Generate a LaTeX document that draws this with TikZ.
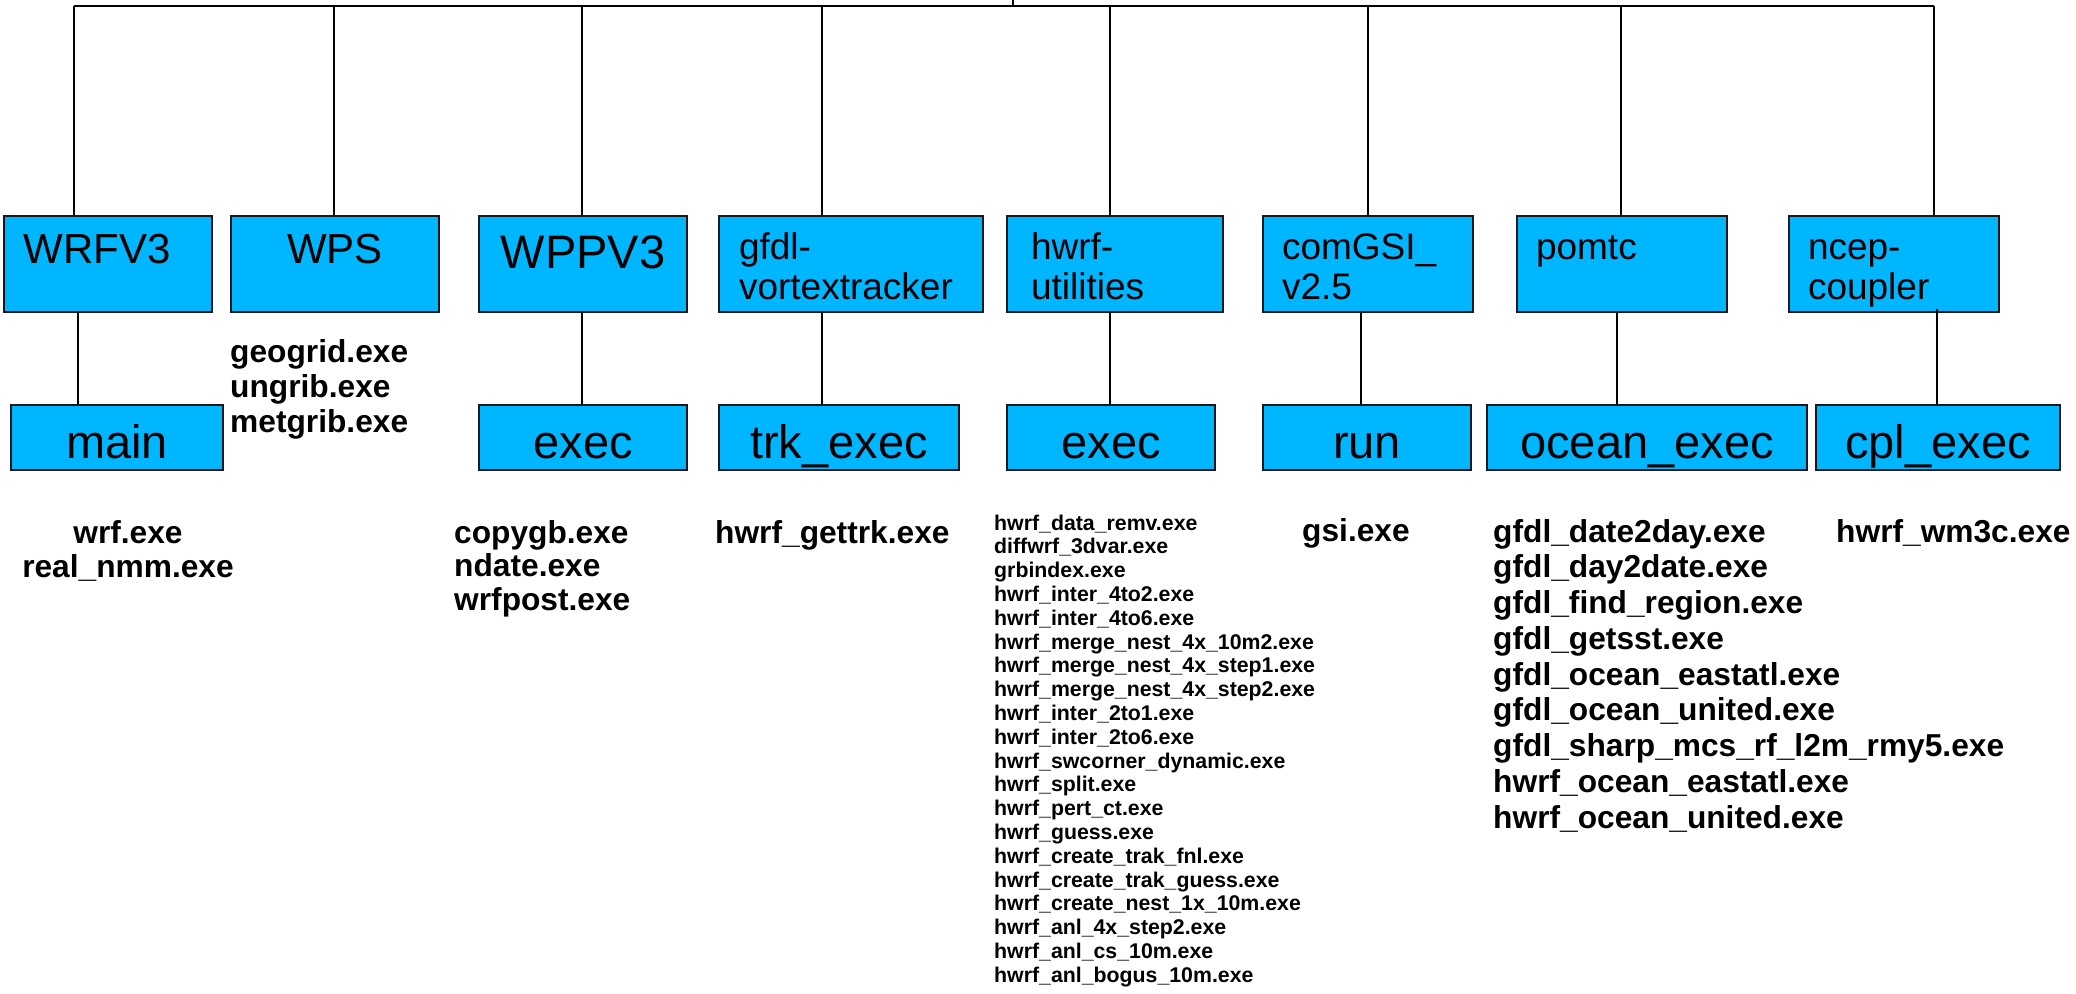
\documentclass[tikz,border=0pt]{standalone}
\usepackage{fontspec}
\setmainfont{Liberation Sans}
\definecolor{boxblue}{RGB}{0,183,255}
\newcommand{\tbox}[7]{\parbox[c][#2pt][t]{#1pt}{#3\fontsize{#4pt}{#5pt}\selectfont\rule{0pt}{#6pt}#7}}
\newcommand{\lst}[5]{\parbox[t]{#1pt}{#2\bfseries\fontsize{#3pt}{#4pt}\selectfont #5}}
\begin{document}
\begin{tikzpicture}[x=1pt,y=-1pt,
  dirbox/.style={draw=black!90, line width=2pt, fill=boxblue, inner sep=0pt, anchor=north west},
  conn/.style={line width=1.3pt, black},
  bar/.style={line width=2.2pt, black},
  listtext/.style={inner sep=0pt, anchor=base west}]
\useasboundingbox (0,0) rectangle (2076,993);

% top row of directories
\node[dirbox] (wrfv3) at (3,215)    {\tbox{208}{96}{\raggedright\leftskip=20pt}{42}{46}{47}{WRFV3}};
\node[dirbox] (wps)   at (230,215)  {\tbox{208}{96}{\centering}{42}{46}{47}{WPS}};
\node[dirbox] (wppv3) at (478,215)  {\tbox{208}{96}{\centering}{47}{50}{52}{WPPV3}};
\node[dirbox] (gfdl)  at (718,215)  {\tbox{264}{96}{\raggedright\leftskip=20pt}{37}{40}{43}{gfdl-\\vortextracker}};
\node[dirbox] (hwrf)  at (1006,215) {\tbox{216}{96}{\raggedright\leftskip=24pt}{37}{40}{43}{hwrf-\\utilities}};
\node[dirbox] (gsi)   at (1262,215) {\tbox{210}{96}{\raggedright\leftskip=19pt}{37}{40}{43}{comGSI\_\\v2.5}};
\node[dirbox] (pomtc) at (1516,215) {\tbox{210}{96}{\raggedright\leftskip=19pt}{37}{40}{43}{pomtc}};
\node[dirbox] (ncep)  at (1788,215) {\tbox{210}{96}{\raggedright\leftskip=19pt}{37}{40}{43}{ncep-\\coupler}};

% bottom row of directories
\node[dirbox] (main)  at (10,404)   {\tbox{212}{65}{\centering}{47}{50}{53}{main}};
\node[dirbox] (exec1) at (478,404)  {\tbox{208}{65}{\centering}{47}{50}{53}{exec}};
\node[dirbox] (trk)   at (718,404)  {\tbox{240}{65}{\centering}{47}{50}{53}{trk\_exec}};
\node[dirbox] (exec2) at (1006,404) {\tbox{208}{65}{\centering}{47}{50}{53}{exec}};
\node[dirbox] (run)   at (1262,404) {\tbox{208}{65}{\centering}{47}{50}{53}{run}};
\node[dirbox] (ocean) at (1486,404) {\tbox{320}{65}{\centering}{47}{50}{53}{ocean\_exec}};
\node[dirbox] (cpl)   at (1815,404) {\tbox{244}{65}{\centering}{47}{50}{53}{cpl\_exec}};

% executable lists
\node[listtext] (wpslist) at (230,362) {\lst{300}{\raggedright}{31.7}{35}{geogrid.exe\\ungrib.exe\\metgrib.exe}};
\node[inner sep=0pt, anchor=base] (wrflist) at (128,543) {\lst{260}{\centering}{31.7}{34}{wrf.exe\\real\_nmm.exe}};
\node[listtext] (wpplist) at (454,543) {\lst{300}{\raggedright}{31.7}{33.5}{copygb.exe\\ndate.exe\\wrfpost.exe}};
\node[listtext] (trklist) at (715,543) {\lst{300}{\raggedright}{31.7}{35}{hwrf\_gettrk.exe}};
\node[listtext] (hwrflist) at (994,530) {\lst{400}{\raggedright}{21.3}{23.8}{%
hwrf\_data\_remv.exe\\diffwrf\_3dvar.exe\\grbindex.exe\\hwrf\_inter\_4to2.exe\\hwrf\_inter\_4to6.exe\\%
hwrf\_merge\_nest\_4x\_10m2.exe\\hwrf\_merge\_nest\_4x\_step1.exe\\hwrf\_merge\_nest\_4x\_step2.exe\\%
hwrf\_inter\_2to1.exe\\hwrf\_inter\_2to6.exe\\hwrf\_swcorner\_dynamic.exe\\hwrf\_split.exe\\%
hwrf\_pert\_ct.exe\\hwrf\_guess.exe\\hwrf\_create\_trak\_fnl.exe\\hwrf\_create\_trak\_guess.exe\\%
hwrf\_create\_nest\_1x\_10m.exe\\hwrf\_anl\_4x\_step2.exe\\hwrf\_anl\_cs\_10m.exe\\hwrf\_anl\_bogus\_10m.exe}};
\node[listtext] (gsilist) at (1302,541) {\lst{200}{\raggedright}{31.7}{35}{gsi.exe}};
\node[listtext] (pomlist) at (1493,542) {\lst{560}{\raggedright}{31.7}{35.75}{%
gfdl\_date2day.exe\\gfdl\_day2date.exe\\gfdl\_find\_region.exe\\gfdl\_getsst.exe\\%
gfdl\_ocean\_eastatl.exe\\gfdl\_ocean\_united.exe\\gfdl\_sharp\_mcs\_rf\_l2m\_rmy5.exe\\%
hwrf\_ocean\_eastatl.exe\\hwrf\_ocean\_united.exe}};
\node[listtext] (cpllist) at (1836,542) {\lst{260}{\raggedright}{31.7}{35}{hwrf\_wm3c.exe}};

% top bar and its joints
\coordinate (root) at (1013,0);
\coordinate (bL) at (74,6);
\coordinate (bR) at (1934,6);
\coordinate (j1) at (74,6);
\coordinate (j2) at (334,6);
\coordinate (j3) at (582,6);
\coordinate (j4) at (822,6);
\coordinate (j5) at (1110,6);
\coordinate (j6) at (1368,6);
\coordinate (j7) at (1621,6);
\coordinate (j8) at (1934,6);
\draw[bar] (bL) -- (bR);
\draw[conn] (root) -- (root |- bL);
\draw[conn] (j1) -- (j1 |- wrfv3.north);
\draw[conn] (j2) -- (j2 |- wps.north);
\draw[conn] (j3) -- (j3 |- wppv3.north);
\draw[conn] (j4) -- (j4 |- gfdl.north);
\draw[conn] (j5) -- (j5 |- hwrf.north);
\draw[conn] (j6) -- (j6 |- gsi.north);
\draw[conn] (j7) -- (j7 |- pomtc.north);
\draw[conn] (j8) -- (j8 |- ncep.north);

% connectors to the subdirectories
\coordinate (k1) at (78,0);
\coordinate (k3) at (582,0);
\coordinate (k4) at (822,0);
\coordinate (k5) at (1110,0);
\coordinate (k6) at (1361,0);
\coordinate (k7) at (1617,0);
\coordinate (k8) at (1937,0);
\path ([yshift=4pt]ncep.south) coordinate (ns);
\draw[conn] (wrfv3.south -| k1) -- (main.north -| k1);
\draw[conn] (wppv3.south -| k3) -- (exec1.north -| k3);
\draw[conn] (gfdl.south -| k4) -- (trk.north -| k4);
\draw[conn] (hwrf.south -| k5) -- (exec2.north -| k5);
\draw[conn] (gsi.south -| k6) -- (run.north -| k6);
\draw[conn] (pomtc.south -| k7) -- (ocean.north -| k7);
\draw[conn] (ns -| k8) -- (cpl.north -| k8);
\end{tikzpicture}
\end{document}
